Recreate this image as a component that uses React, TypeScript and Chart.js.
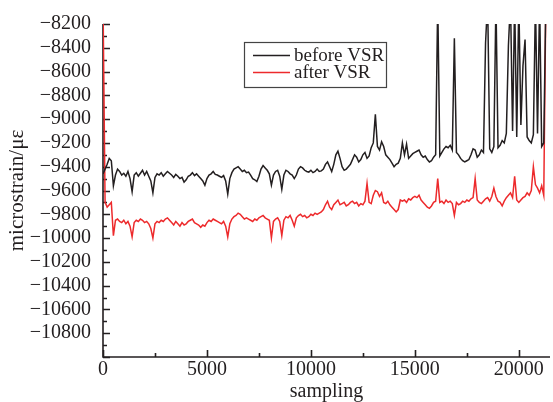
import React, { useEffect, useRef } from 'react';
import { Chart, registerables } from 'chart.js';

Chart.register(...registerables);

// sampling step between stored points
const SAMPLE_STEP = 100;

const beforeVSR = [
  -9460, -9420, -9380, -9330, -9350, -9560, -9470, -9420, -9440, -9470,
  -9455, -9480, -9440, -9500, -9610, -9470, -9450, -9480, -9455, -9430,
  -9470, -9440, -9480, -9520, -9620, -9490, -9460, -9470, -9450, -9480,
  -9460, -9440, -9455, -9470, -9490, -9465, -9480, -9500, -9490, -9530,
  -9510, -9480, -9470, -9450, -9475, -9460, -9480, -9500, -9520, -9555,
  -9500, -9470, -9460, -9440, -9465, -9470, -9480, -9490, -9475, -9520,
  -9630, -9500, -9450, -9420, -9410, -9400, -9420, -9440, -9430, -9450,
  -9445, -9470, -9500, -9510, -9525, -9480, -9420, -9390, -9410, -9430,
  -9460, -9555, -9470, -9440, -9430, -9480, -9590, -9470, -9430, -9440,
  -9460, -9470, -9500, -9470, -9420, -9400, -9410, -9430, -9440, -9445,
  -9430, -9450, -9440, -9420, -9440, -9435, -9420, -9380, -9360, -9400,
  -9440, -9380, -9300, -9270, -9330, -9400, -9430, -9420, -9400, -9380,
  -9340, -9300, -9320, -9360, -9340, -9300, -9280, -9330, -9310, -9240,
  -9200, -8960, -9230, -9260, -9190, -9230, -9300, -9320, -9340, -9370,
  -9400, -9380, -9370, -9330, -9200, -9300, -9210, -9330, -9310, -9290,
  -9280, -9270, -9260, -9300, -9320, -9310, -9340, -9360, -9350, -9320,
  -9300, -8000, -9310, -9280, -9250, -9230, -9240, -9220, -9260, -8320,
  -9280, -9300, -9330, -9350, -9360, -9350, -9340, -9300, -9250, -9260,
  -9320, -9300, -9260, -9280, -8360, -8000, -9250, -9280, -9230, -8000,
  -9240, -9220, -9180, -9200, -9120, -8380, -8000, -9100, -8000, -9150,
  -8000, -9050, -8550, -8330, -9150, -9180, -9200, -9130, -8000, -9120,
  -8000, -9230, -9200, -8000,
];

const afterVSR = [
  -8000, -9700, -9740, -9720, -9700, -9980, -9850, -9840, -9860, -9870,
  -9850, -9880, -9860, -9900, -9990, -9870, -9850, -9860, -9840, -9850,
  -9870, -9860, -9880, -9920, -10000, -9880, -9860, -9870, -9850, -9860,
  -9840, -9830, -9850, -9870, -9890, -9860, -9880, -9900, -9870, -9890,
  -9880, -9860, -9850, -9840, -9870, -9880, -9890, -9910, -9890, -9900,
  -9870, -9850, -9860, -9840, -9850, -9860, -9870, -9880, -9860, -9900,
  -9990, -9880, -9840, -9820, -9810, -9790, -9800, -9820, -9840, -9830,
  -9840, -9850, -9860, -9840, -9850, -9830, -9820, -9810, -9830, -9840,
  -9850, -10000, -9860, -9840, -9830, -9860, -9980, -9850, -9820, -9830,
  -9810, -9850, -9900, -9830, -9810, -9800, -9820, -9810, -9830, -9820,
  -9800, -9810, -9790, -9800, -9790, -9780, -9760, -9720, -9690, -9740,
  -9760, -9720, -9700, -9680, -9720, -9710, -9700, -9730, -9720, -9700,
  -9690, -9710, -9700, -9730, -9710, -9720, -9690, -9540, -9700, -9710,
  -9640, -9600, -9610, -9650, -9620, -9700, -9710, -9690, -9720, -9740,
  -9760, -9780, -9760, -9680, -9690, -9680, -9700, -9670, -9680, -9660,
  -9650, -9660, -9640, -9680, -9700, -9720, -9740, -9750, -9730, -9700,
  -9690, -9500, -9700, -9690, -9710, -9680, -9700, -9690, -9710, -9810,
  -9700, -9720, -9710, -9690, -9700, -9680, -9690, -9670, -9660, -9500,
  -9680, -9700, -9710, -9690, -9670, -9660, -9690, -9650, -9580, -9650,
  -9690, -9700, -9730, -9690, -9660, -9640, -9620, -9660, -9480, -9680,
  -9700, -9680, -9660, -9650, -9620, -9640, -9600, -9400, -9550, -9580,
  -9620, -9560, -9640, -8000,
];

const xTickValues = [0, 5000, 10000, 15000, 20000];
const yTickValues = [
  -8200, -8400, -8600, -8800, -9000, -9200, -9400, -9600, -9800,
  -10000, -10200, -10400, -10600, -10800,
];

const X_MIN = 0;
const X_MAX = 21500;
const X_STEP = 5000;
const X_MINOR = 2500;
const Y_MIN = -11000;
const Y_MAX = -8200;
const Y_STEP = 200;
const Y_MINOR = 100;

const seriesLabels = ['before VSR', 'after VSR'];
const seriesColors = ['#231f20', '#ed2a2c'];
const xTitle = 'sampling';
const yTitle = 'microstrain/\u03bc\u03b5';

const FONT = '"Liberation Serif", "DejaVu Serif", serif';
const INK = '#231f20';

const axesPlugin = {
  id: 'axesPlugin',
  beforeDatasetsDraw(chart: any) {
    const { ctx, chartArea: a, scales } = chart;
    const xs = scales.x;
    const ys = scales.y;
    ctx.save();
    ctx.strokeStyle = INK;
    ctx.lineWidth = 1.6;
    ctx.beginPath();
    ctx.moveTo(a.left, a.top);
    ctx.lineTo(a.left, a.bottom);
    ctx.lineTo(a.right, a.bottom);
    ctx.stroke();
    ctx.beginPath();
    for (let v = Y_MIN; v <= Y_MAX; v += Y_MINOR) {
      const major = (v - Y_MIN) % Y_STEP === 0;
      const len = major ? 7 : 4;
      const py = Math.round(ys.getPixelForValue(v)) + 0.5;
      ctx.moveTo(a.left, py);
      ctx.lineTo(a.left + len, py);
    }
    for (let v = X_MIN; v <= X_MAX; v += X_MINOR) {
      const major = v % X_STEP === 0;
      const len = major ? 7 : 4;
      const px = Math.round(xs.getPixelForValue(v)) + 0.5;
      ctx.moveTo(px, a.bottom);
      ctx.lineTo(px, a.bottom - len);
    }
    ctx.stroke();
    ctx.restore();
  },
  afterDraw(chart: any) {
    const { ctx } = chart;
    ctx.save();
    ctx.fillStyle = '#ffffff';
    ctx.fillRect(244, 42, 143, 46);
    ctx.strokeStyle = '#444444';
    ctx.lineWidth = 1.2;
    ctx.strokeRect(244.5, 42.5, 142, 45);
    const rows = [55, 72];
    chart.data.datasets.forEach((ds: any, i: number) => {
      const yy = rows[i];
      ctx.strokeStyle = ds.borderColor;
      ctx.lineWidth = 1.6;
      ctx.beginPath();
      ctx.moveTo(253, yy + 0.5);
      ctx.lineTo(290, yy + 0.5);
      ctx.stroke();
      ctx.fillStyle = INK;
      ctx.font = `19px ${FONT}`;
      ctx.textBaseline = 'middle';
      ctx.textAlign = 'left';
      ctx.fillText(ds.label, 294, yy + 1);
    });
    ctx.restore();
  },
};

export default function App() {
  const ref = useRef<HTMLCanvasElement>(null);
  useEffect(() => {
    const mk = (arr: number[]) => arr.map((v, i) => ({ x: i * SAMPLE_STEP, y: v }));
    const chart = new Chart(ref.current as HTMLCanvasElement, {
      type: 'line',
      data: {
        datasets: [
          {
            label: seriesLabels[0],
            data: mk(beforeVSR),
            borderColor: seriesColors[0],
            borderWidth: 1.5,
            pointRadius: 0,
            tension: 0,
          },
          {
            label: seriesLabels[1],
            data: mk(afterVSR),
            borderColor: seriesColors[1],
            borderWidth: 1.5,
            pointRadius: 0,
            tension: 0,
          },
        ],
      },
      options: {
        animation: false,
        responsive: false,
        maintainAspectRatio: false,
        devicePixelRatio: 1,
        layout: { padding: { top: 21, right: 3, left: 0, bottom: 0 } },
        plugins: { legend: { display: false }, tooltip: { enabled: false } },
        scales: {
          x: {
            type: 'linear',
            min: X_MIN,
            max: X_MAX,
            grid: { display: false, drawTicks: false },
            border: { display: false },
            afterBuildTicks: (s: any) => {
              s.ticks = xTickValues.map((v) => ({ value: v }));
            },
            ticks: {
              autoSkip: false,
              padding: 1,
              maxRotation: 0,
              minRotation: 0,
              color: INK,
              font: { family: FONT, size: 20 },
              callback: (v: any) => String(v),
            },
            title: {
              display: true,
              text: xTitle,
              color: INK,
              font: { family: FONT, size: 20, lineHeight: 1 },
              padding: { top: 0, bottom: 0 },
            },
            afterFit: (s: any) => {
              s.height = 45;
            },
          },
          y: {
            type: 'linear',
            min: Y_MIN,
            max: Y_MAX,
            grid: { display: false, drawTicks: false },
            border: { display: false },
            afterBuildTicks: (s: any) => {
              s.ticks = yTickValues.map((v) => ({ value: v }));
            },
            ticks: {
              autoSkip: false,
              padding: 12,
              color: INK,
              font: { family: FONT, size: 20 },
              callback: (v: any) => '\u2212' + Math.abs(Number(v)),
            },
            title: {
              display: true,
              text: yTitle,
              color: INK,
              font: { family: FONT, size: 21, lineHeight: 1 },
              padding: { top: 7, bottom: 0 },
            },
            afterFit: (s: any) => {
              s.width = 103;
            },
          },
        },
      },
      plugins: [axesPlugin],
    } as any);
    return () => chart.destroy();
  }, []);
  return (
    <div style={{ position: 'fixed', left: 0, top: 0, width: 553, height: 402, background: '#fff' }}>
      <canvas ref={ref} width={553} height={402} style={{ width: 553, height: 402, display: 'block' }} />
    </div>
  );
}
